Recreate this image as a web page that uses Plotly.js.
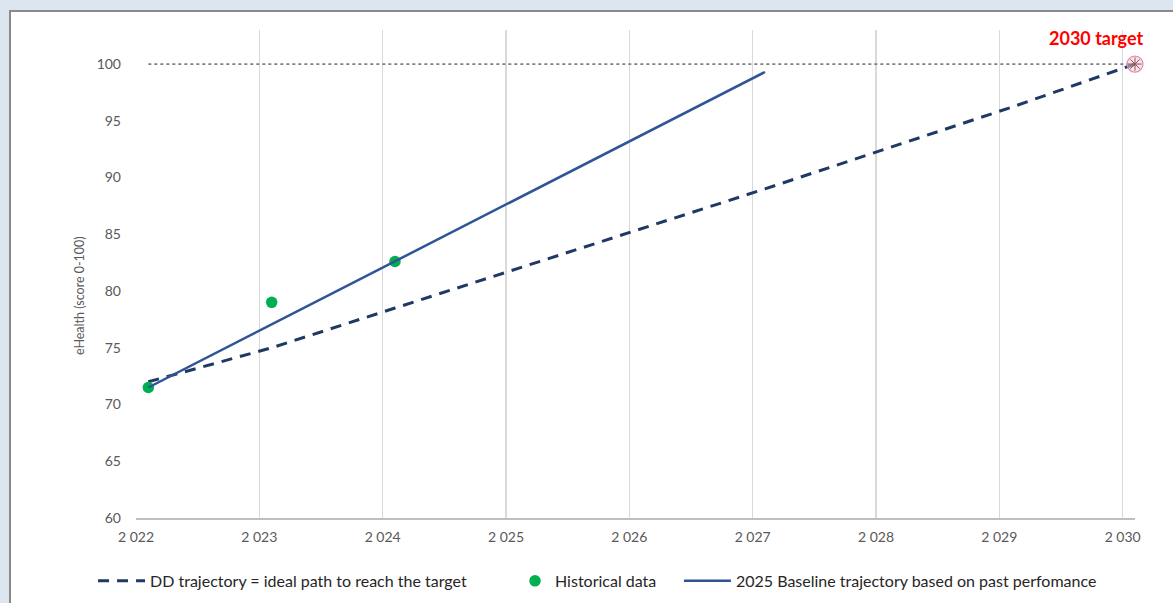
<!DOCTYPE html>
<html>
<head>
<meta charset="utf-8">
<script src="https://cdn.plot.ly/plotly-3.0.1.min.js"></script>
<style>
  html, body { margin: 0; padding: 0; background: #dce6f1; overflow: hidden; }
  #frame { position: absolute; left: 9px; top: 10px; width: 1170px; height: 600px;
           background: #ffffff; border-left: 2px solid #8a8a8a; border-top: 2px solid #8a8a8a; }
  #chart { position: absolute; left: 0; top: 0; width: 1162px; height: 591px; }
</style>
</head>
<body>
<div id="frame"><div id="chart"></div></div>
<script>
// ---- data ----
const histYears = [2022.1, 2023.1, 2024.1];
const histValues = [71.5, 79.0, 82.6];

const ddYears = [2022.1, 2023.1, 2024.1, 2025.1, 2026.1, 2027.1, 2028.1, 2029.1, 2030.1];
const ddValues = [72.0, 75.0, 78.5, 82.0, 85.5, 89.0, 92.6, 96.2, 100.0];

const baseYears = [2022.1, 2023.1, 2024.1, 2025.1, 2026.1, 2027.1];
const baseValues = [71.5, 77.05, 82.6, 88.15, 93.7, 99.3];

const targetLevelYears = [2022.1, 2030.1];
const targetLevelValues = [100, 100];

const targetYear = [2030.1];
const targetValue = [100];

const xTickVals = [2022, 2023, 2024, 2025, 2026, 2027, 2028, 2029, 2030];
const xTickText = ['2 022', '2 023', '2 024', '2 025', '2 026', '2 027', '2 028', '2 029', '2 030'];
const yTickVals = [60, 65, 70, 75, 80, 85, 90, 95, 100];

const FONT = 'Lato, "Open Sans", sans-serif';
const GRAY = '#595959';

const traces = [
  {
    x: targetLevelYears, y: targetLevelValues, mode: 'lines', showlegend: false,
    line: { color: '#808080', width: 1.8, dash: 'dot' }, hoverinfo: 'skip'
  },
  {
    name: 'DD trajectory = ideal path to reach the target',
    x: ddYears, y: ddValues, mode: 'lines',
    line: { color: '#1f3864', width: 3, dash: '11px,8px' },
    legend: 'legend'
  },
  {
    name: 'Historical data',
    x: histYears, y: histValues, mode: 'markers',
    marker: { color: '#00b050', size: 11.5 },
    legend: 'legend2'
  },
  {
    name: '2025 Baseline trajectory based on past perfomance',
    x: baseYears, y: baseValues, mode: 'lines',
    line: { color: '#2f5597', width: 2.5 },
    legend: 'legend3'
  },
  {
    x: targetYear, y: targetValue, mode: 'markers', showlegend: false, cliponaxis: false,
    marker: { symbol: 'circle', size: 16, color: 'rgba(245,200,218,0.5)',
              line: { color: '#e68bb0', width: 1.2 } }
  },
  {
    x: targetYear, y: targetValue, mode: 'markers', showlegend: false, cliponaxis: false,
    marker: { symbol: 'asterisk-open', size: 11, line: { color: '#ec8ab2', width: 1 } }
  }
];

const legendCommon = {
  orientation: 'h', yanchor: 'middle', xanchor: 'left',
  bgcolor: 'rgba(0,0,0,0)', font: { family: FONT, size: 16, color: '#262626' }
};

const layout = {
  width: 1162, height: 591,
  margin: { l: 125, r: 38, t: 18, b: 85, autoexpand: false },
  paper_bgcolor: '#ffffff', plot_bgcolor: '#ffffff',
  font: { family: FONT, color: GRAY },
  xaxis: {
    range: [2022, 2030.1], tickmode: 'array', tickvals: xTickVals, ticktext: xTickText,
    showgrid: true, gridcolor: '#d9d9d9', gridwidth: 1.5,
    zeroline: false, showline: true, linecolor: '#bfbfbf', linewidth: 1.5,
    ticks: '', tickfont: { family: FONT, size: 14, color: GRAY }, ticklabelstandoff: 6,
    fixedrange: true
  },
  yaxis: {
    range: [60, 103], tickmode: 'array', tickvals: yTickVals,
    showgrid: false, zeroline: false, showline: false,
    ticks: '', tickfont: { family: FONT, size: 14, color: GRAY }, ticklabelstandoff: 14,
    fixedrange: true
  },
  legend: Object.assign({}, legendCommon, { x: -0.043, y: -0.129, itemwidth: 47 }),
  legend2: Object.assign({}, legendCommon, { x: 0.3794, y: -0.129 }),
  legend3: Object.assign({}, legendCommon, { x: 0.5435, y: -0.129, itemwidth: 47 }),
  annotations: [
    {
      xref: 'x', yref: 'y', x: 2030.1, y: 100, xanchor: 'right', yanchor: 'middle',
      text: '<b>2030 target</b>', showarrow: false, xshift: 10, yshift: 26,
      font: { family: FONT, size: 18, color: '#ff0000' }
    },
    {
      xref: 'paper', yref: 'paper', x: -0.056, y: 0.455, xanchor: 'center', yanchor: 'middle',
      textangle: -90, text: 'eHealth (score 0-100)', showarrow: false,
      font: { family: FONT, size: 12.5, color: GRAY }
    }
  ],
  showlegend: true
};

Plotly.newPlot('chart', traces, layout, { displayModeBar: false, staticPlot: true });
</script>
</body>
</html>
